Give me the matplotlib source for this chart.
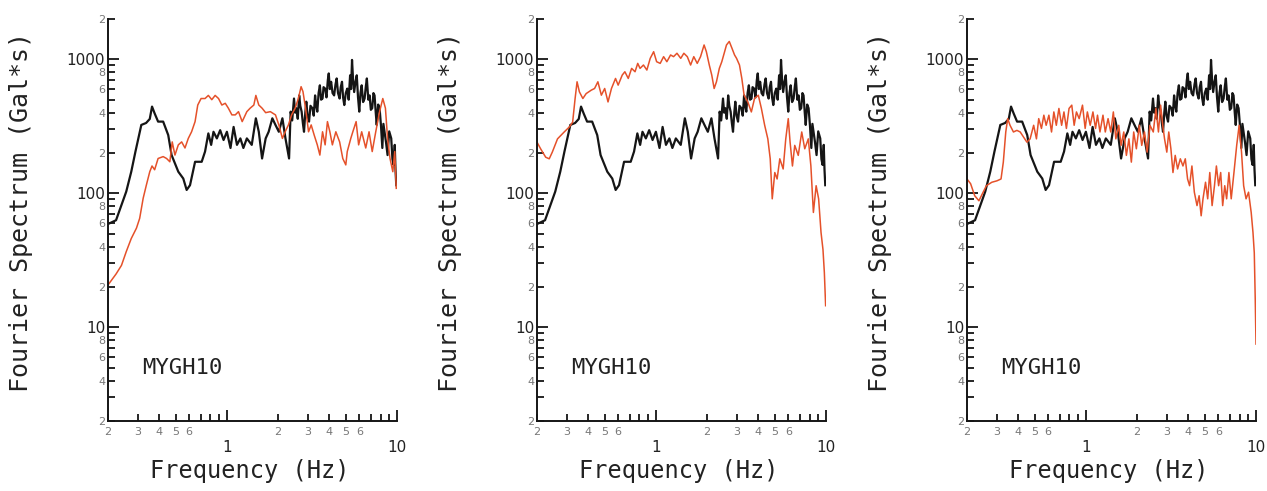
import matplotlib
matplotlib.use("Agg")
import matplotlib.pyplot as plt
from matplotlib.ticker import FixedLocator, FixedFormatter

# Black curve (same reference spectrum in all three panels)
black_freq = [0.2, 0.223, 0.256, 0.274, 0.29, 0.314, 0.335, 0.352, 0.363, 0.376,
              0.394, 0.422, 0.452, 0.473, 0.518, 0.554, 0.58, 0.607, 0.65, 0.711,
              0.744, 0.778, 0.808, 0.834, 0.873, 0.913, 0.956, 1.0, 1.05, 1.095,
              1.146, 1.2, 1.25, 1.31, 1.4, 1.48, 1.54, 1.61, 1.69, 1.76,
              1.85, 1.93, 2.02, 2.12, 2.21, 2.32, 2.37, 2.42, 2.48, 2.52,
              2.56, 2.61, 2.66, 2.7, 2.75, 2.8, 2.84, 2.89, 2.93, 2.98,
              3.04, 3.1, 3.18, 3.24, 3.3, 3.35, 3.4, 3.46, 3.52, 3.58,
              3.65, 3.7, 3.78, 3.85, 3.92, 3.97, 4.03, 4.1, 4.18, 4.27,
              4.35, 4.42, 4.5, 4.6, 4.67, 4.75, 4.82, 4.9, 5.0, 5.1,
              5.2, 5.3, 5.37, 5.44, 5.52, 5.6, 5.7, 5.8, 5.9, 6.0,
              6.1, 6.2, 6.32, 6.45, 6.55, 6.65, 6.78, 6.9, 7.02, 7.15,
              7.27, 7.38, 7.5, 7.6, 7.75, 7.9, 8.05, 8.2, 8.32, 8.45,
              8.62, 8.8, 9.0, 9.25, 9.4, 9.55, 9.7, 9.8, 9.9]
black_amp = [59, 63, 103, 145, 205, 324, 335, 359, 444, 395,
             343, 343, 272, 193, 145, 129, 106, 115, 172, 172,
             205, 280, 230, 288, 257, 296, 250, 288, 218, 313,
             230, 257, 218, 257, 230, 363, 288, 182, 257, 288,
             363, 324, 288, 363, 257, 182, 407, 350, 510, 400,
             432, 360, 538, 450, 407, 330, 288, 400, 483, 380,
             343, 450, 432, 380, 538, 450, 407, 560, 640, 500,
             510, 620, 605, 520, 700, 785, 600, 680, 560, 538,
             650, 720, 560, 510, 620, 680, 520, 456, 560, 605,
             500, 760, 600, 990, 700, 570, 680, 760, 520, 407,
             560, 640, 480, 510, 620, 720, 500, 538, 420, 432,
             560, 538, 400, 324, 460, 432, 320, 218, 330, 288,
             240, 193, 290, 257, 180, 163, 230, 150, 115]

# Red curve, panel 1
red1_freq = [0.2, 0.223, 0.24, 0.256, 0.274, 0.294, 0.307, 0.322, 0.336, 0.352,
             0.363, 0.376, 0.394, 0.422, 0.442, 0.462, 0.477, 0.495, 0.518, 0.542,
             0.567, 0.593, 0.62, 0.65, 0.674, 0.705, 0.744, 0.778, 0.815, 0.853,
             0.893, 0.934, 0.978, 1.02, 1.07, 1.12, 1.17, 1.23, 1.31, 1.37,
             1.44, 1.48, 1.54, 1.61, 1.69, 1.8, 1.93, 2.02, 2.12, 2.2,
             2.3, 2.4, 2.52, 2.63, 2.73, 2.8, 2.9, 3.02, 3.13, 3.26,
             3.4, 3.52, 3.65, 3.78, 3.9, 4.03, 4.17, 4.37, 4.6, 4.8,
             5.0, 5.1, 5.35, 5.5, 5.75, 5.95, 6.2, 6.55, 6.85, 7.15,
             7.5, 7.9, 8.25, 8.55, 8.8, 9.1, 9.45, 9.7, 9.9]
red1_amp = [20.7, 25, 29, 36.7, 46, 55, 65, 92, 115, 145,
            160, 150, 182, 188, 182, 172, 242, 193, 230, 242,
            218, 257, 288, 343, 456, 510, 510, 538, 500, 538,
            510, 456, 470, 432, 385, 385, 407, 343, 407, 432,
            456, 538, 456, 432, 400, 407, 385, 324, 257, 288,
            324, 385, 432, 510, 625, 575, 432, 288, 324, 272,
            230, 193, 288, 230, 343, 288, 230, 288, 242, 182,
            163, 205, 257, 288, 343, 230, 288, 218, 288, 205,
            288, 407, 510, 432, 257, 182, 145, 205, 109]

# Red curve, panel 2
red2_freq = [0.2, 0.21, 0.225, 0.236, 0.246, 0.264, 0.289, 0.31, 0.324, 0.335,
             0.344, 0.355, 0.372, 0.389, 0.417, 0.436, 0.456, 0.478, 0.5, 0.523,
             0.548, 0.579, 0.6, 0.634, 0.657, 0.688, 0.72, 0.754, 0.782, 0.807,
             0.845, 0.885, 0.926, 0.97, 1.01, 1.06, 1.11, 1.16, 1.22, 1.27,
             1.33, 1.4, 1.46, 1.53, 1.6, 1.67, 1.75, 1.83, 1.92, 1.98,
             2.06, 2.13, 2.2, 2.27, 2.36, 2.44, 2.52, 2.6, 2.7, 2.8,
             2.9, 2.98, 3.1, 3.2, 3.3, 3.47, 3.64, 3.8, 4.0, 4.17,
             4.36, 4.55, 4.7, 4.83, 5.0, 5.16, 5.35, 5.6, 5.8, 6.0,
             6.15, 6.35, 6.55, 6.87, 7.2, 7.5, 7.87, 8.15, 8.43, 8.75,
             9.05, 9.35, 9.6, 9.78, 9.95]
red2_amp = [241, 215, 186, 181, 203, 255, 287, 313, 340, 510,
            680, 572, 510, 555, 589, 606, 680, 540, 606, 481,
            606, 720, 642, 763, 808, 720, 856, 808, 933, 856,
            907, 832, 1017, 1140, 960, 933, 1047, 960, 1078, 1047,
            1110, 1017, 1110, 1047, 907, 1047, 933, 1047, 1280, 1140,
            907, 763, 606, 680, 856, 960, 1110, 1280, 1360, 1210,
            1078, 1017, 907, 720, 540, 481, 405, 510, 540, 430,
            322, 255, 181, 91, 143, 128, 181, 152, 255, 361,
            241, 160, 228, 192, 287, 215, 255, 160, 72, 114,
            91, 51, 38, 25.6, 14.5]

# Red curve, panel 3
red3_freq = [0.2, 0.21, 0.222, 0.235, 0.243, 0.26, 0.28, 0.3, 0.317, 0.327,
             0.338, 0.347, 0.358, 0.375, 0.393, 0.411, 0.43, 0.45, 0.47, 0.493,
             0.512, 0.528, 0.548, 0.566, 0.584, 0.606, 0.628, 0.648, 0.67, 0.694,
             0.72, 0.743, 0.768, 0.796, 0.826, 0.853, 0.88, 0.913, 0.955, 0.99,
             1.02, 1.06, 1.1, 1.14, 1.17, 1.21, 1.26, 1.3, 1.35, 1.4,
             1.45, 1.5, 1.56, 1.61, 1.67, 1.73, 1.79, 1.85, 1.91, 1.98,
             2.06, 2.13, 2.21, 2.29, 2.38, 2.49, 2.58, 2.67, 2.75, 2.83,
             2.9, 2.99, 3.07, 3.16, 3.25, 3.35, 3.46, 3.59, 3.72, 3.84,
             3.96, 4.07, 4.2, 4.34, 4.5, 4.63, 4.76, 4.88, 5.05, 5.2,
             5.35, 5.52, 5.7, 5.85, 6.03, 6.2, 6.37, 6.55, 6.72, 6.93,
             7.15, 7.42, 7.7, 7.96, 8.22, 8.46, 8.74, 9.04, 9.37, 9.6,
             9.77, 9.9, 10.0]
red3_amp = [128, 118, 96, 88, 96, 114, 121, 124, 128, 171,
            287, 361, 322, 287, 295, 287, 263, 241, 255, 322,
            255, 361, 305, 383, 322, 383, 287, 405, 322, 430,
            322, 405, 305, 430, 455, 322, 405, 361, 455, 305,
            405, 322, 405, 305, 383, 287, 383, 287, 361, 287,
            405, 255, 322, 228, 287, 192, 255, 171, 287, 215,
            322, 228, 287, 203, 322, 287, 430, 287, 455, 322,
            255, 203, 287, 215, 143, 192, 152, 181, 160, 181,
            128, 114, 160, 102, 81, 96, 68, 91, 121, 91,
            143, 81, 114, 160, 114, 143, 81, 114, 91, 143,
            91, 143, 228, 322, 203, 114, 91, 102, 72, 51,
            36, 16, 7.5]

red_series = [(red1_freq, red1_amp), (red2_freq, red2_amp), (red3_freq, red3_amp)]

station = "MYGH10"
xlabel = "Frequency (Hz)"
ylabel = "Fourier Spectrum (Gal*s)"

BLACK = "#151515"
RED = "#e5512a"
TXT = "#222222"
GREY = "#777777"
mono = "DejaVu Sans Mono"

fig = plt.figure(figsize=(12.67, 4.91), dpi=100)
lefts = [108, 537, 967]

# tick positions and labels
y_major = [10, 100, 1000]
y_minor = [m * d for d in (1, 10, 100) for m in range(2, 10)] + [2000]
y_minor_lab = [("" if m % 2 else str(m)) for d in (1, 10, 100) for m in range(2, 10)] + ["2"]
x_minor = [m * 0.1 for m in range(2, 10)] + [float(m) for m in range(2, 10)]
x_minor_lab = [str(m) if m <= 6 else "" for m in range(2, 10)] * 2

for left, (rf, ra) in zip(lefts, red_series):
    ax = fig.add_axes([left / 1267, 1 - 421 / 491, 289 / 1267, 402 / 491])
    ax.plot(black_freq, black_amp, color=BLACK, lw=1.6)
    ax.plot(rf, ra, color=RED, lw=1.1)
    ax.set_xscale("log")
    ax.set_yscale("log")
    ax.set_xlim(0.2, 10)
    ax.set_ylim(2, 2000)

    for s in ("top", "right"):
        ax.spines[s].set_visible(False)
    for s in ("left", "bottom"):
        ax.spines[s].set_linewidth(1.4)
        ax.spines[s].set_color(BLACK)

    ax.yaxis.set_major_locator(FixedLocator(y_major))
    ax.yaxis.set_major_formatter(FixedFormatter(["10", "100", "1000"]))
    ax.yaxis.set_minor_locator(FixedLocator(y_minor))
    ax.yaxis.set_minor_formatter(FixedFormatter(y_minor_lab))
    ax.xaxis.set_major_locator(FixedLocator([1, 10]))
    ax.xaxis.set_major_formatter(FixedFormatter(["1", "10"]))
    ax.xaxis.set_minor_locator(FixedLocator(x_minor))
    ax.xaxis.set_minor_formatter(FixedFormatter(x_minor_lab))

    ax.tick_params(which="both", direction="in", width=1.3, color=BLACK)
    ax.tick_params(which="major", length=8, labelsize=11, labelcolor=TXT)
    ax.tick_params(which="minor", length=5, labelsize=8, labelcolor=GREY)
    ax.tick_params(axis="x", which="major", pad=14)
    ax.tick_params(axis="x", which="minor", pad=4)
    ax.tick_params(axis="y", which="both", pad=2)

    ax.set_xlabel(xlabel, fontsize=17, family=mono, color=TXT)
    ax.xaxis.set_label_coords(0.49, -0.125)
    ax.xaxis.label.set_va("center")
    ax.set_ylabel(ylabel, fontsize=18, family=mono, color=TXT)
    ax.yaxis.set_label_coords(-0.30, 0.52)
    ax.yaxis.label.set_va("center")

    ax.text(0.118, 0.132, station, transform=ax.transAxes, fontsize=16,
            family=mono, color=TXT, va="center", ha="left")

fig.savefig("out.png", dpi=100)
